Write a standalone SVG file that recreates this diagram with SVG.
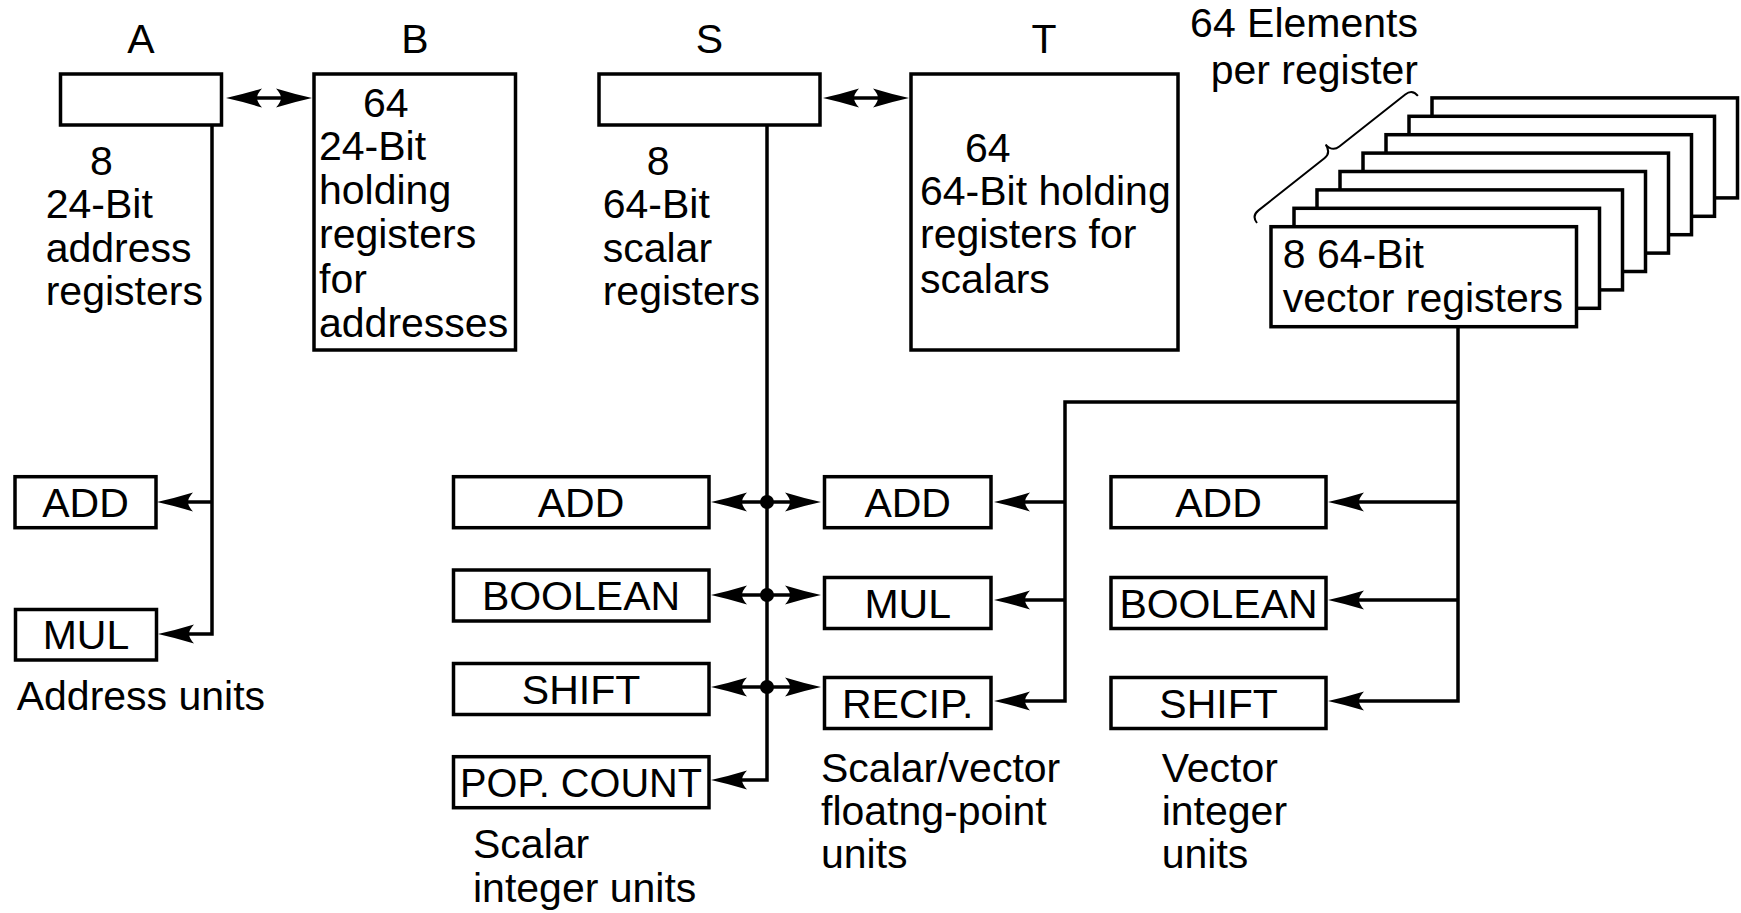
<svg xmlns="http://www.w3.org/2000/svg" width="1741" height="913" viewBox="0 0 1741 913">
<style>
  .box{fill:#fff;stroke:#000;stroke-width:3.5}
  .ln{fill:none;stroke:#000;stroke-width:3.5}
  .t{font-family:"Liberation Sans",Arial,Helvetica,sans-serif;font-size:41px;fill:#000}
  .c{text-anchor:middle}
  .e{text-anchor:end}
</style>
<defs>
  <marker id="ah" markerUnits="userSpaceOnUse" viewBox="-8 -12 40 24" markerWidth="40" markerHeight="24" refX="0" refY="0" orient="auto-start-reverse">
    <path d="M30,0 Q12,-4 -6,-9.5 Q-1,-4 -1,0 Q-1,4 -6,9.5 Q12,4 30,0 Z" fill="#000"/>
  </marker>
</defs>
<rect width="1741" height="913" fill="#fff"/>

<g id="labels">
  <text class="t c" x="141" y="53">A</text>
  <text class="t c" x="415" y="53">B</text>
  <text class="t c" x="709.5" y="53">S</text>
  <text class="t c" x="1044" y="53">T</text>
  <text class="t e" x="1418" y="37">64 Elements</text>
  <text class="t e" x="1418" y="83.5">per register</text>
</g>

<g id="connectors">
  <line class="ln" x1="256" y1="98" x2="282" y2="98" marker-start="url(#ah)" marker-end="url(#ah)"/>
  <line class="ln" x1="853" y1="98" x2="879" y2="98" marker-start="url(#ah)" marker-end="url(#ah)"/>
  <path class="ln" d="M212,126 V634 H188" marker-end="url(#ah)"/>
  <path class="ln" d="M212,502 H187" marker-end="url(#ah)"/>
  <path class="ln" d="M767,126 V780 H741" marker-end="url(#ah)"/>
  <line class="ln" x1="741" y1="502" x2="791" y2="502" marker-start="url(#ah)" marker-end="url(#ah)"/>
  <line class="ln" x1="741" y1="595" x2="791" y2="595" marker-start="url(#ah)" marker-end="url(#ah)"/>
  <line class="ln" x1="741" y1="687" x2="791" y2="687" marker-start="url(#ah)" marker-end="url(#ah)"/>
  <circle cx="767" cy="502" r="7" fill="#000"/>
  <circle cx="767" cy="595" r="7" fill="#000"/>
  <circle cx="767" cy="687" r="7" fill="#000"/>
  <path class="ln" d="M1458,327 V701 H1358" marker-end="url(#ah)"/>
  <path class="ln" d="M1458,502 H1358" marker-end="url(#ah)"/>
  <path class="ln" d="M1458,600 H1358" marker-end="url(#ah)"/>
  <path class="ln" d="M1458,402 H1065 V701 H1024" marker-end="url(#ah)"/>
  <path class="ln" d="M1065,502 H1024" marker-end="url(#ah)"/>
  <path class="ln" d="M1065,600 H1024" marker-end="url(#ah)"/>
</g>

<g id="regA">
  <rect class="box" x="60.5" y="74" width="161" height="51"/>
  <text class="t" x="90" y="175">8</text>
  <text class="t" x="45.7" y="218.3">24-Bit</text>
  <text class="t" x="45.7" y="261.7">address</text>
  <text class="t" x="45.7" y="305">registers</text>
</g>
<g id="regB">
  <rect class="box" x="314" y="74" width="201.5" height="276"/>
  <text class="t" x="363" y="116.7">64</text>
  <text class="t" x="319" y="160">24-Bit</text>
  <text class="t" x="319" y="204">holding</text>
  <text class="t" x="319" y="248">registers</text>
  <text class="t" x="319" y="292.7">for</text>
  <text class="t" x="319" y="336.7">addresses</text>
</g>
<g id="regS">
  <rect class="box" x="599" y="74" width="221" height="51"/>
  <text class="t" x="646.7" y="175">8</text>
  <text class="t" x="602.7" y="218.3">64-Bit</text>
  <text class="t" x="602.7" y="261.7">scalar</text>
  <text class="t" x="602.7" y="305">registers</text>
</g>
<g id="regT">
  <rect class="box" x="911" y="74" width="267" height="276"/>
  <text class="t" x="965" y="161.7">64</text>
  <text class="t" x="920" y="205">64-Bit holding</text>
  <text class="t" x="920" y="248.3">registers for</text>
  <text class="t" x="920" y="292.7">scalars</text>
</g>
<g id="regV">
  <rect class="box" x="1432" y="97.9" width="305.5" height="100"/>
  <rect class="box" x="1409" y="116.3" width="305.5" height="100"/>
  <rect class="box" x="1386" y="134.7" width="305.5" height="100"/>
  <rect class="box" x="1363" y="153.1" width="305.5" height="100"/>
  <rect class="box" x="1340" y="171.5" width="305.5" height="100"/>
  <rect class="box" x="1317" y="189.9" width="305.5" height="100"/>
  <rect class="box" x="1294" y="208.3" width="305.5" height="100"/>
  <rect class="box" x="1271" y="226.7" width="305.5" height="100"/>
  <text class="t" x="1282.7" y="268.3">8 64-Bit</text>
  <text class="t" x="1282.7" y="311.7">vector registers</text>
  <path d="M0,0 C0,-6 3,-9 9,-9 L93,-9 C99,-9 102,-13 102.5,-19 C103,-13 106,-9 112,-9 L196,-9 C202,-9 205,-6 205,0" fill="none" stroke="#000" stroke-width="2" transform="translate(1257,223) rotate(-38.3)"/>
</g>

<g id="addrUnits">
  <rect class="box" x="15" y="476.7" width="141" height="51"/>
  <text class="t c" x="85.5" y="516.5">ADD</text>
  <rect class="box" x="15.5" y="609.5" width="141" height="50.5"/>
  <text class="t c" x="86" y="649">MUL</text>
  <text class="t" x="16.7" y="710">Address units</text>
</g>
<g id="scalarUnits">
  <rect class="box" x="453.5" y="476.7" width="255.5" height="51"/>
  <text class="t c" x="581" y="516.5">ADD</text>
  <rect class="box" x="453.5" y="570" width="255.5" height="51"/>
  <text class="t c" x="581" y="610">BOOLEAN</text>
  <rect class="box" x="453.5" y="663.5" width="255.5" height="51"/>
  <text class="t c" x="581" y="703.5">SHIFT</text>
  <rect class="box" x="453.5" y="756.7" width="255.5" height="51"/>
  <text class="t c" x="581" y="796.5" textLength="242" lengthAdjust="spacingAndGlyphs">POP. COUNT</text>
  <text class="t" x="473" y="858.3">Scalar</text>
  <text class="t" x="473" y="901.7">integer units</text>
</g>
<g id="fpUnits">
  <rect class="box" x="824.5" y="476.7" width="166.5" height="51"/>
  <text class="t c" x="907.7" y="516.5">ADD</text>
  <rect class="box" x="824.5" y="577.5" width="166.5" height="51"/>
  <text class="t c" x="907.7" y="617.5">MUL</text>
  <rect class="box" x="824.5" y="677.5" width="166.5" height="51"/>
  <text class="t c" x="907.7" y="717.5">RECIP.</text>
  <text class="t" x="821" y="781.7">Scalar/vector</text>
  <text class="t" x="821" y="825">floatng-point</text>
  <text class="t" x="821" y="868.3">units</text>
</g>
<g id="vecUnits">
  <rect class="box" x="1111" y="476.7" width="215" height="51"/>
  <text class="t c" x="1218.5" y="516.5">ADD</text>
  <rect class="box" x="1111" y="577.5" width="215" height="51"/>
  <text class="t c" x="1218.5" y="617.5">BOOLEAN</text>
  <rect class="box" x="1111" y="677.5" width="215" height="51"/>
  <text class="t c" x="1218.5" y="717.5">SHIFT</text>
  <text class="t" x="1161.7" y="781.7">Vector</text>
  <text class="t" x="1161.7" y="825">integer</text>
  <text class="t" x="1161.7" y="868.3">units</text>
</g>
</svg>
